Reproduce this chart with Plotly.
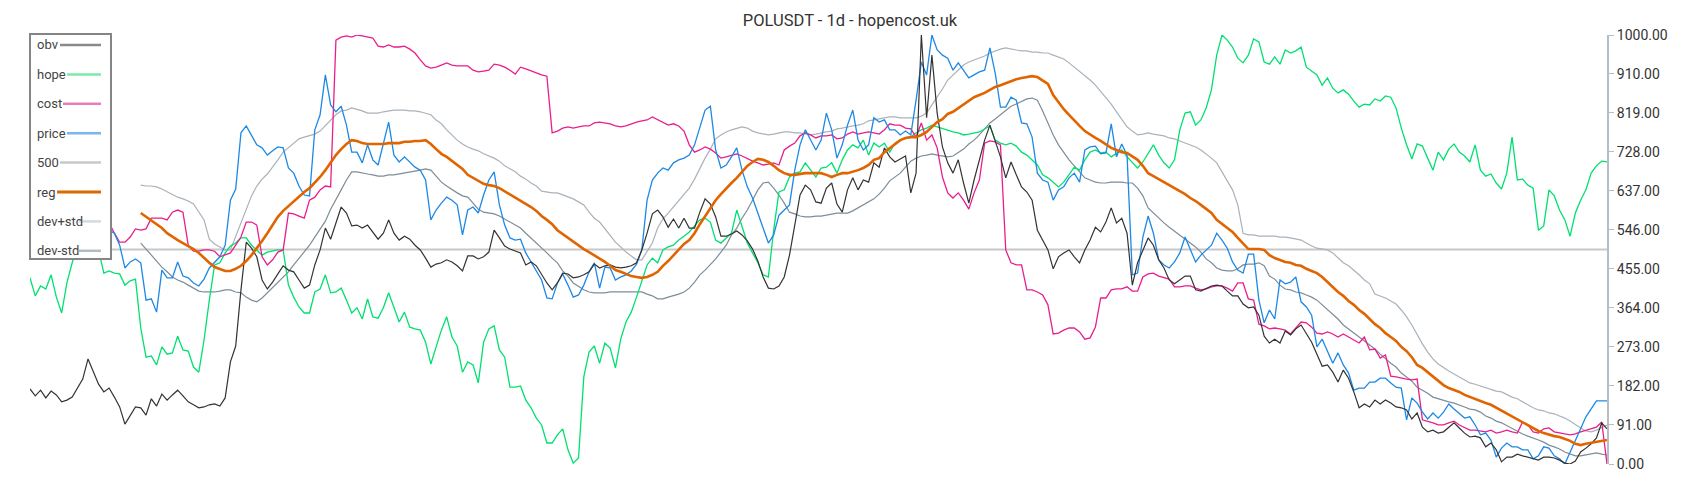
import plotly.graph_objects as go

# ---------------- data (one value per day, 300 days) ----------------
HOPE = [
    434, 392, 415, 408, 441, 389, 352, 422, 469, 510,
    522, 517, 503, 499, 445, 450, 445, 443, 417, 427,
    431, 317, 249, 252, 231, 273, 256, 259, 298, 266,
    263, 226, 214, 289, 382, 464, 469, 492, 508, 515,
    527, 527, 510, 499, 487, 494, 497, 499, 499, 417,
    389, 366, 352, 352, 401, 408, 441, 399, 401, 410,
    382, 352, 364, 338, 385, 343, 340, 364, 399, 366,
    331, 354, 319, 315, 312, 284, 233, 273, 312, 343,
    296, 275, 214, 238, 231, 189, 284, 315, 322, 266,
    249, 179, 179, 182, 149, 131, 107, 91, 49, 49,
    68, 82, 33, 2, 14, 203, 261, 275, 235, 282,
    270, 224, 291, 331, 354, 389, 424, 464, 480, 469,
    499, 506, 510, 522, 531, 541, 555, 569, 573, 564,
    522, 515, 527, 538, 592, 552, 515, 492, 469, 441,
    436, 545, 634, 639, 669, 678, 681, 702, 685, 669,
    690, 692, 702, 678, 709, 732, 744, 737, 755, 720,
    748, 739, 748, 727, 748, 755, 760, 762, 772, 779,
    783, 790, 786, 783, 779, 774, 772, 767, 769, 772,
    774, 781, 788, 755, 748, 744, 748, 741, 727, 720,
    709, 697, 674, 667, 657, 646, 657, 674, 692, 685,
    709, 727, 732, 725, 727, 716, 723, 732, 716, 704,
    690, 704, 725, 744, 720, 702, 690, 709, 779, 818,
    821, 790, 802, 830, 872, 953, 1000, 988, 972, 946,
    935, 953, 991, 984, 937, 932, 949, 932, 965, 958,
    963, 972, 925, 916, 907, 883, 900, 876, 865, 872,
    862, 846, 832, 839, 837, 851, 846, 858, 855, 830,
    783, 744, 711, 746, 741, 713, 685, 727, 709, 734,
    746, 727, 718, 704, 744, 685, 671, 676, 655, 641,
    678, 762, 662, 664, 650, 643, 545, 555, 639, 625,
    592, 569, 531, 585, 615, 639, 678, 695, 706, 704,
]

OBV = [
    175, 159, 172, 154, 170, 161, 145, 149, 156, 177,
    198, 245, 217, 186, 168, 177, 156, 133, 93, 114,
    133, 131, 114, 152, 135, 163, 149, 161, 172, 159,
    145, 138, 131, 133, 138, 140, 135, 154, 238, 275,
    406, 517, 503, 483, 429, 408, 424, 443, 462, 452,
    448, 429, 410, 417, 464, 499, 550, 524, 559, 599,
    585, 555, 557, 550, 557, 541, 524, 538, 569, 538,
    522, 531, 524, 510, 499, 480, 459, 466, 469, 476,
    471, 462, 450, 485, 485, 478, 483, 494, 545, 527,
    508, 501, 496, 492, 464, 471, 462, 441, 422, 406,
    422, 445, 443, 434, 436, 441, 448, 466, 457, 462,
    464, 459, 457, 459, 462, 469, 499, 538, 583, 592,
    576, 552, 571, 550, 573, 550, 550, 587, 618, 606,
    576, 531, 531, 536, 543, 534, 520, 501, 473, 436,
    410, 408, 415, 436, 487, 557, 627, 650, 639, 611,
    608, 643, 655, 606, 587, 639, 667, 639, 662, 657,
    702, 692, 737, 716, 704, 711, 718, 632, 678, 1000,
    807, 953, 818, 739, 702, 678, 709, 655, 608, 662,
    709, 755, 790, 755, 716, 667, 704, 674, 646, 634,
    615, 545, 522, 499, 455, 483, 492, 499, 483, 469,
    499, 522, 552, 541, 564, 597, 562, 573, 538, 417,
    469, 499, 527, 510, 476, 457, 429, 420, 429, 438,
    438, 406, 403, 410, 415, 417, 415, 403, 392, 392,
    373, 364, 366, 347, 298, 282, 291, 282, 310, 301,
    315, 324, 305, 284, 256, 228, 231, 214, 191, 219,
    200, 168, 131, 140, 133, 149, 140, 149, 142, 133,
    131, 126, 105, 119, 86, 75, 79, 72, 75, 86,
    96, 84, 72, 63, 65, 61, 40, 49, 33, 5,
    16, 16, 23, 19, 16, 12, 9, 16, 16, 14,
    9, 2, 0, 7, 28, 37, 47, 61, 96, 82,
]

PRICE = [
    560, 555, 565, 550, 545, 560, 570, 565, 555, 560,
    570, 565, 555, 550, 548, 545, 538, 510, 457, 471,
    478, 469, 382, 385, 354, 452, 434, 434, 471, 438,
    434, 422, 415, 431, 457, 471, 483, 510, 615, 641,
    772, 788, 767, 744, 737, 720, 730, 739, 737, 690,
    678, 648, 627, 625, 779, 814, 907, 837, 821, 834,
    790, 727, 727, 702, 744, 709, 697, 744, 797, 720,
    704, 716, 704, 692, 685, 662, 569, 592, 608, 622,
    615, 604, 534, 592, 599, 585, 627, 662, 681, 604,
    557, 527, 522, 524, 492, 471, 452, 429, 387, 385,
    422, 443, 417, 389, 394, 417, 448, 469, 410, 459,
    457, 429, 436, 441, 450, 466, 499, 615, 662, 678,
    690, 685, 702, 709, 713, 720, 744, 783, 825, 834,
    732, 690, 697, 716, 737, 685, 646, 620, 587, 550,
    515, 534, 580, 592, 604, 685, 744, 779, 755, 732,
    755, 818, 779, 713, 744, 790, 825, 755, 732, 744,
    807, 797, 802, 779, 779, 767, 776, 767, 848, 937,
    907, 1000, 965, 953, 946, 918, 935, 918, 900, 907,
    914, 918, 970, 911, 832, 832, 855, 848, 795, 793,
    762, 678, 662, 657, 615, 639, 646, 667, 678, 657,
    732, 739, 741, 723, 725, 793, 716, 746, 720, 441,
    445, 529, 578, 538, 476, 464, 457, 471, 492, 529,
    499, 471, 487, 499, 510, 538, 522, 503, 471, 452,
    445, 489, 489, 382, 329, 359, 338, 429, 420, 424,
    436, 378, 366, 347, 273, 291, 261, 235, 259, 231,
    212, 172, 177, 177, 191, 191, 200, 200, 189, 179,
    177, 103, 154, 142, 121, 105, 119, 107, 121, 140,
    128, 117, 107, 110, 91, 68, 72, 56, 16, 37,
    49, 40, 40, 33, 33, 12, 19, 40, 37, 19,
    12, 0, 26, 56, 82, 110, 128, 147, 147, 147,
]

COST = [
    575, 580, 585, 580, 575, 570, 580, 585, 590, 585,
    580, 575, 580, 585, 575, 562, 538, 517, 517, 529,
    548, 545, 548, 573, 573, 573, 569, 587, 592, 587,
    510, 496, 496, 499, 499, 496, 483, 487, 492, 510,
    529, 564, 564, 557, 483, 464, 476, 494, 499, 585,
    583, 578, 573, 615, 622, 639, 648, 646, 988, 995,
    998, 995, 1000, 998, 995, 993, 974, 972, 977, 972,
    972, 974, 967, 958, 942, 928, 923, 925, 930, 935,
    930, 928, 928, 928, 918, 914, 916, 918, 932, 930,
    925, 918, 909, 925, 921, 916, 911, 907, 904, 772,
    776, 783, 786, 783, 786, 788, 788, 795, 797, 795,
    793, 788, 786, 788, 793, 797, 800, 802, 809, 802,
    797, 790, 793, 788, 776, 744, 727, 732, 739, 734,
    725, 713, 716, 720, 723, 718, 711, 706, 702, 697,
    699, 702, 697, 732, 741, 748, 765, 772, 767, 760,
    765, 765, 767, 758, 760, 769, 774, 769, 772, 774,
    772, 769, 779, 793, 790, 790, 783, 781, 762, 795,
    755, 767, 737, 669, 632, 620, 632, 615, 594, 632,
    662, 748, 753, 751, 744, 499, 469, 464, 464, 406,
    406, 401, 394, 371, 303, 305, 312, 317, 317, 308,
    291, 294, 319, 387, 387, 406, 408, 408, 413, 403,
    403, 436, 443, 445, 438, 434, 431, 413, 413, 415,
    415, 410, 406, 408, 413, 415, 415, 410, 403, 422,
    422, 385, 382, 326, 322, 315, 317, 315, 312, 303,
    317, 331, 329, 319, 305, 303, 308, 303, 296, 303,
    296, 289, 282, 296, 266, 268, 247, 254, 205, 203,
    200, 198, 196, 198, 103, 100, 96, 91, 91, 96,
    100, 91, 84, 79, 79, 77, 75, 79, 72, 75,
    79, 75, 72, 98, 91, 75, 72, 82, 84, 75,
    72, 70, 68, 70, 75, 79, 82, 86, 98, 0,
]

LEVEL_500 = 500

# regression line and its +/- std band start on day 21
BAND_START = 21
REG = [
    585, 576, 569, 559, 550, 538, 531, 522, 515,
    508, 501, 492, 480, 469, 459, 455, 450, 450, 455,
    462, 473, 487, 503, 520, 538, 557, 576, 590, 601,
    613, 622, 634, 643, 655, 669, 685, 704, 720, 734,
    746, 755, 753, 748, 746, 746, 746, 746, 748, 748,
    748, 751, 751, 753, 753, 755, 746, 734, 723, 716,
    706, 697, 688, 674, 667, 660, 653, 650, 648, 643,
    636, 629, 620, 613, 606, 599, 590, 578, 569, 559,
    545, 536, 527, 520, 510, 501, 494, 487, 480, 471,
    462, 452, 448, 443, 438, 436, 434, 436, 441, 448,
    462, 473, 487, 501, 513, 522, 538, 559, 578, 597,
    615, 629, 643, 655, 667, 681, 695, 704, 711, 709,
    704, 695, 685, 678, 674, 674, 676, 678, 678, 678,
    678, 674, 669, 674, 678, 678, 681, 685, 690, 697,
    709, 713, 727, 737, 746, 755, 760, 762, 762, 767,
    774, 786, 797, 804, 816, 821, 830, 837, 846, 855,
    860, 865, 872, 879, 883, 888, 893, 897, 900, 902,
    904, 902, 895, 886, 860, 844, 827, 814, 800, 788,
    776, 767, 760, 753, 746, 737, 732, 727, 725, 716,
    709, 695, 678, 671, 664, 657, 650, 643, 636, 629,
    620, 613, 604, 594, 585, 569, 559, 550, 541, 527,
    513, 501, 501, 501, 499, 487, 480, 476, 471, 469,
    464, 462, 455, 450, 445, 436, 424, 413, 401, 392,
    380, 371, 359, 350, 338, 326, 317, 305, 296, 287,
    273, 263, 249, 231, 224, 214, 203, 193, 184, 177,
    172, 168, 161, 156, 152, 147, 142, 138, 131, 124,
    117, 110, 103, 96, 89, 82, 77, 72, 68, 65,
    63, 58, 54, 47, 44, 47, 49, 51, 54, 56,
]

DEV_PLUS = [
    650, 648, 648, 646, 641, 634, 629, 622, 618,
    613, 606, 587, 569, 524, 513, 506, 499, 499, 531,
    564, 597, 625, 648, 664, 676, 692, 709, 727, 737,
    748, 758, 762, 765, 769, 776, 788, 802, 814, 823,
    825, 830, 827, 823, 818, 818, 818, 821, 823, 825,
    825, 825, 823, 823, 821, 818, 814, 802, 793, 779,
    767, 755, 746, 739, 734, 730, 723, 718, 713, 706,
    695, 688, 681, 671, 664, 655, 648, 636, 634, 632,
    632, 627, 622, 618, 611, 604, 587, 573, 564, 548,
    531, 517, 506, 494, 485, 476, 476, 494, 515, 550,
    571, 585, 599, 615, 629, 643, 664, 690, 713, 734,
    758, 767, 774, 779, 783, 786, 783, 776, 772, 769,
    767, 769, 772, 774, 774, 772, 772, 769, 767, 769,
    772, 774, 776, 781, 783, 786, 788, 790, 793, 800,
    802, 804, 807, 809, 809, 807, 807, 807, 807, 811,
    818, 837, 855, 874, 895, 907, 918, 930, 937, 942,
    946, 951, 958, 963, 967, 970, 967, 965, 963, 963,
    960, 960, 958, 958, 953, 949, 944, 935, 925, 916,
    907, 895, 883, 869, 853, 839, 821, 802, 786, 776,
    767, 769, 772, 769, 767, 765, 760, 758, 753, 748,
    744, 739, 732, 723, 713, 702, 681, 662, 639, 604,
    538, 534, 534, 531, 531, 531, 531, 529, 529, 527,
    524, 522, 515, 508, 503, 501, 499, 492, 480, 469,
    462, 452, 441, 429, 420, 396, 392, 387, 380, 373,
    359, 343, 324, 301, 280, 261, 245, 233, 224, 217,
    210, 203, 196, 189, 186, 182, 179, 175, 170, 168,
    161, 156, 152, 145, 138, 131, 126, 124, 119, 117,
    112, 107, 100, 91, 84, 77, 75, 79, 86, 91,
]

DEV_MINUS = [
    515, 501, 487, 473, 459, 448, 436, 429, 424,
    417, 410, 403, 401, 401, 401, 403, 406, 406, 401,
    399, 389, 382, 378, 387, 399, 410, 424, 436, 448,
    464, 480, 496, 510, 529, 548, 566, 594, 618, 639,
    662, 681, 681, 678, 676, 674, 671, 671, 674, 674,
    676, 678, 681, 683, 685, 688, 685, 671, 657, 648,
    639, 632, 625, 622, 608, 594, 587, 585, 583, 578,
    571, 564, 557, 550, 538, 527, 515, 503, 492, 480,
    469, 450, 438, 422, 413, 406, 401, 399, 399, 399,
    401, 401, 401, 401, 401, 401, 401, 396, 392, 385,
    385, 389, 392, 396, 401, 410, 424, 441, 452, 464,
    478, 494, 510, 534, 550, 573, 592, 615, 639, 655,
    657, 643, 627, 608, 587, 583, 578, 576, 576, 578,
    578, 580, 583, 585, 585, 585, 590, 597, 604, 611,
    618, 629, 643, 660, 669, 678, 692, 706, 713, 718,
    720, 723, 720, 718, 716, 718, 727, 734, 746, 755,
    767, 781, 795, 804, 814, 823, 834, 839, 846, 851,
    853, 848, 823, 795, 767, 744, 725, 709, 695, 681,
    667, 662, 657, 655, 655, 657, 657, 657, 655, 655,
    643, 625, 597, 585, 573, 562, 552, 543, 534, 524,
    515, 506, 494, 478, 469, 457, 452, 450, 450, 455,
    464, 466, 466, 469, 462, 438, 431, 417, 408, 406,
    401, 399, 394, 389, 382, 371, 359, 350, 338, 324,
    315, 305, 296, 287, 277, 268, 256, 245, 235, 226,
    212, 203, 193, 179, 172, 165, 156, 152, 149, 145,
    142, 138, 133, 128, 126, 121, 112, 107, 100, 96,
    89, 82, 75, 70, 65, 61, 56, 51, 44, 40,
    35, 28, 23, 19, 19, 21, 23, 26, 23, 21,
]

Y_TICKS = [0, 91, 182, 273, 364, 455, 546, 637, 728, 819, 910, 1000]
TITLE = "POLUSDT - 1d - hopencost.uk"

DAYS = list(range(len(OBV)))
BAND_DAYS = DAYS[BAND_START:]

# ---------------- styles ----------------
C_OBV = "#333333"
C_HOPE = "#00e070"
C_COST = "#e91e8c"
C_PRICE = "#1e88e5"
C_500 = "#c8c8c8"
C_REG = "#e06500"
C_DEVP = "#a9b2ba"
C_DEVM = "#7d8d98"

fig = go.Figure()

fig.add_trace(go.Scatter(x=[DAYS[0], DAYS[-1]], y=[LEVEL_500, LEVEL_500], mode="lines",
                         line=dict(color=C_500, width=2), name="500"))
fig.add_trace(go.Scatter(x=BAND_DAYS, y=DEV_PLUS, mode="lines",
                         line=dict(color=C_DEVP, width=1.2), name="dev+std"))
fig.add_trace(go.Scatter(x=BAND_DAYS, y=DEV_MINUS, mode="lines",
                         line=dict(color=C_DEVM, width=1.2), name="dev-std"))
fig.add_trace(go.Scatter(x=DAYS, y=HOPE, mode="lines",
                         line=dict(color=C_HOPE, width=1.3), name="hope"))
fig.add_trace(go.Scatter(x=DAYS, y=COST, mode="lines",
                         line=dict(color=C_COST, width=1.3), name="cost"))
fig.add_trace(go.Scatter(x=DAYS, y=PRICE, mode="lines",
                         line=dict(color=C_PRICE, width=1.3), name="price"))
fig.add_trace(go.Scatter(x=DAYS, y=OBV, mode="lines",
                         line=dict(color=C_OBV, width=1.2), name="obv"))
fig.add_trace(go.Scatter(x=BAND_DAYS, y=REG, mode="lines",
                         line=dict(color=C_REG, width=2.6), name="reg"))

# ---------------- custom legend (label left, swatch right) ----------------
PLOT_L, PLOT_R, PLOT_T, PLOT_B = 30, 1607, 35, 464
PW, PH = PLOT_R - PLOT_L, PLOT_B - PLOT_T


def px(x):
    return (x - PLOT_L) / PW


def py(y):
    return (PLOT_B - y) / PH


legend_items = [
    ("obv", "#8a8a8a", 60, 2.5),
    ("hope", "#7ee8a8", 67, 2.5),
    ("cost", "#ee7cbc", 63, 2.5),
    ("price", "#79b6ee", 67, 2.5),
    ("500", "#c8c8c8", 60, 2.5),
    ("reg", "#d96a00", 57, 3),
    ("dev+std", "#d6dadd", 79, 2.5),
    ("dev-std", "#b3bbc2", 79, 2.5),
]
shapes = [dict(type="rect", xref="paper", yref="paper",
               x0=px(30), x1=px(111), y0=py(259), y1=py(34),
               line=dict(color="#858585", width=2), fillcolor="white", layer="above")]
annotations = []
row0, row_step = 45, 29.4
for i, (label, col, sx, lw) in enumerate(legend_items):
    yy = row0 + i * row_step
    shapes.append(dict(type="line", xref="paper", yref="paper",
                       x0=px(sx), x1=px(101), y0=py(yy), y1=py(yy),
                       line=dict(color=col, width=lw), layer="above"))
    annotations.append(dict(text=label, xref="paper", yref="paper",
                            x=px(35), y=py(yy), xanchor="left", yanchor="middle",
                            showarrow=False, font=dict(family="Roboto", size=13, color="#444")))

fig.update_layout(
    width=1700, height=500, autosize=False,
    margin=dict(l=PLOT_L, r=1700 - PLOT_R, t=PLOT_T, b=500 - PLOT_B),
    paper_bgcolor="white", plot_bgcolor="white",
    showlegend=False,
    title=dict(text=TITLE, x=0.5, xref="container", xanchor="center",
               y=1 - 20.5 / 500, yref="container", yanchor="middle",
               font=dict(family="Roboto", size=16.5, color="#333")),
    xaxis=dict(range=[DAYS[0], DAYS[-1]], showgrid=False, zeroline=False,
               showline=False, showticklabels=False, ticks=""),
    yaxis=dict(range=[0, 1000], side="right", tickvals=Y_TICKS, tickformat=".2f",
               showgrid=False, zeroline=False, showline=True, linecolor="#b4bec4",
               linewidth=2, ticks="outside", ticklen=5, tickcolor="#b4bec4",
               tickfont=dict(family="Roboto", size=14, color="#333")),
    shapes=shapes, annotations=annotations,
)

fig.write_html("out.html", config={"displayModeBar": False},
               post_script="document.body.style.margin='0px';")
